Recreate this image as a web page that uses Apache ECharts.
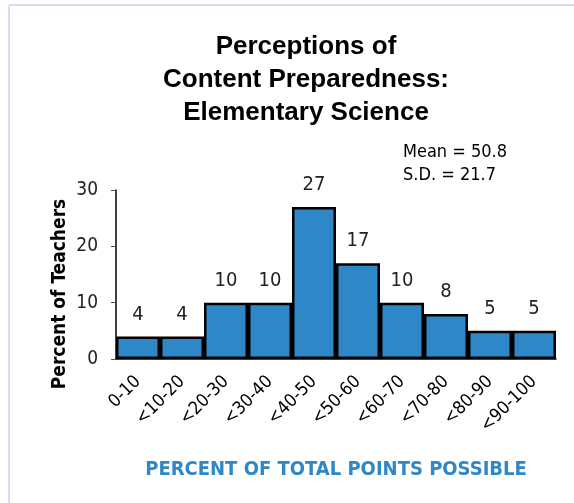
<!DOCTYPE html>
<html>
<head>
<meta charset="utf-8">
<script src="https://cdn.jsdelivr.net/npm/echarts@6/dist/echarts.min.js"></script>
<style>
html,body{margin:0;padding:0;background:#fff;}
#chart{width:574px;height:503px;}
</style>
</head>
<body>
<div id="chart"></div>
<script>
var categories = ['0-10','<10-20','<20-30','<30-40','<40-50','<50-60','<60-70','<70-80','<80-90','<90-100'];
var values = [4,4,10,10,27,17,10,8,5,5];
var yTicks = [0,10,20,30];
var titleLines = ['Perceptions of','Content Preparedness:','Elementary Science'];
var statsLines = ['Mean = 50.8','S.D. = 21.7'];
var xName = 'PERCENT OF TOTAL POINTS POSSIBLE';
var yName = 'Percent of Teachers';

var narrow = '"Liberation Sans Narrow","Arial Narrow","DejaVu Sans Condensed",sans-serif';
var chart = echarts.init(document.getElementById('chart'), null, {renderer:'canvas'});
chart.setOption({
  animation:false,
  backgroundColor:'#fff',
  title:{
    text: titleLines.join('\n'),
    left: 301, top: 25, textAlign:'center',
    textStyle:{fontFamily:'"Liberation Sans",Arial,sans-serif',fontWeight:900,fontSize:26,lineHeight:33,color:'#000'}
  },
  graphic:[
    {type:'line',shape:{x1:9,y1:5,x2:9,y2:503},style:{stroke:'#d6def0',lineWidth:2}},
    {type:'line',shape:{x1:9,y1:5,x2:574,y2:5},style:{stroke:'#d6def0',lineWidth:2}},
    {type:'text',left:403,top:141,style:{text:statsLines.join('\n'),font:'18px '+narrow,lineHeight:23,fill:'#000'}},
    {type:'text',x:60,y:294,rotation:Math.PI/2,style:{text:yName,font:'bold 19px '+narrow,fill:'#000',align:'center',verticalAlign:'middle'}}
  ],
  grid:{left:116,right:18,top:190,bottom:144,containLabel:false},
  xAxis:{
    type:'category',data:categories,
    axisLine:{show:true,lineStyle:{color:'#000',width:1.5}},
    axisTick:{show:false},
    axisLabel:{rotate:45,interval:0,margin:20,fontFamily:narrow,fontSize:18,color:'#000'},
    name:xName,nameLocation:'middle',nameGap:101,
    nameTextStyle:{fontFamily:narrow,fontWeight:'bold',fontSize:20,color:'#2E88C8'}
  },
  yAxis:{
    type:'value',min:0,max:30,interval:10,
    axisLine:{show:true,lineStyle:{color:'#000',width:1.5}},
    axisTick:{show:true,length:5,lineStyle:{color:'#555'}},
    axisLabel:{margin:18,fontFamily:narrow,fontSize:19,color:'#222',
      formatter:function(v){return yTicks.indexOf(v)>=0?String(v):'';}},
    splitLine:{show:false}
  },
  series:[{
    type:'bar',data:values,barCategoryGap:'0%',
    itemStyle:{color:'#2E88C8',borderColor:'#000',borderWidth:2.5},
    label:{show:true,position:'top',distance:12,fontFamily:narrow,fontSize:20,color:'#222'}
  }]
});
</script>
</body>
</html>
